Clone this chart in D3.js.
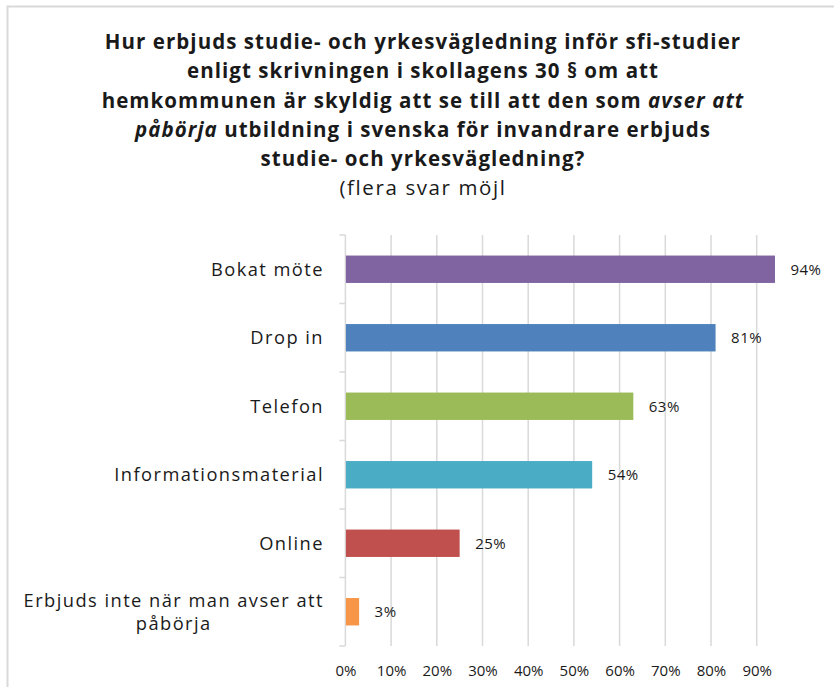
<!DOCTYPE html>
<html>
<head>
<meta charset="utf-8">
<script src="https://cdn.jsdelivr.net/npm/d3@7"></script>
<style>
  body { margin: 0; background: #fff; }
  text { font-family: "Open Sans", sans-serif; fill: #1a1a1a; }
</style>
</head>
<body>
<div id="chart"></div>
<script>
// data
const categories = [
  "Bokat möte",
  "Drop in",
  "Telefon",
  "Informationsmaterial",
  "Online",
  "Erbjuds inte när man avser att påbörja"
];
const shares = [0.94, 0.81, 0.63, 0.54, 0.25, 0.03];
const palette = ["#8064a2", "#4f81bd", "#9bbb59", "#4bacc6", "#c0504d", "#f79646"];
const tickValues = [0, 0.1, 0.2, 0.3, 0.4, 0.5, 0.6, 0.7, 0.8, 0.9];

const titleLines = [
  [{t: "Hur erbjuds studie- och yrkesvägledning inför sfi-studier"}],
  [{t: "enligt skrivningen i skollagens 30 § om att"}],
  [{t: "hemkommunen är skyldig att se till att den som "}, {t: "avser att", i: true}],
  [{t: "påbörja", i: true}, {t: " utbildning i svenska för invandrare erbjuds"}],
  [{t: "studie- och yrkesvägledning?"}]
];
const subtitle = "(flera svar möjl";

(function(){
  const svgWidth = 834,
        svgHeight = 687;

  const plot = {left: 345.4, right: 802.4, top: 235, bottom: 646};

  const svg = d3.select("#chart")
    .append("svg")
    .attr("width", svgWidth)
    .attr("height", svgHeight);

  // chart frame (only top/left edges are inside the window)
  svg.append("rect")
    .attr("x", 7.5)
    .attr("y", 6.5)
    .attr("width", 900)
    .attr("height", 800)
    .attr("fill", "none")
    .attr("stroke", "#d9d9d9")
    .attr("stroke-width", 2);

  // title
  const title = svg.append("text")
    .attr("text-anchor", "middle")
    .style("font-size", "20.5px")
    .style("font-weight", "bold")
    .style("letter-spacing", "1.05px");

  titleLines.forEach((line, i) => {
    const row = title.append("tspan")
      .attr("x", 423)
      .attr("y", 49 + i * 29.3);
    line.forEach(part => {
      row.append("tspan")
        .style("font-style", part.i ? "italic" : "normal")
        .text(part.t);
    });
  });

  svg.append("text")
    .attr("x", 423)
    .attr("y", 49 + 5 * 29.3 - 1)
    .attr("text-anchor", "middle")
    .style("font-size", "20.5px")
    .style("letter-spacing", "1.6px")
    .text(subtitle);

  const x = d3.scaleLinear()
    .domain([0, 1])
    .range([plot.left, plot.right]);

  const y = d3.scaleBand()
    .domain(categories)
    .range([plot.top, plot.bottom])
    .paddingInner(0.6)
    .paddingOuter(0.3);

  // vertical gridlines
  svg.append("g")
    .selectAll("line")
    .data(tickValues.slice(1))
    .enter()
    .append("line")
    .attr("x1", d => x(d))
    .attr("x2", d => x(d))
    .attr("y1", plot.top)
    .attr("y2", plot.bottom)
    .attr("stroke", "#d9d9d9")
    .attr("stroke-width", 1.5);

  // x axis labels
  const bottomAxis = d3.axisBottom(x)
    .tickValues(tickValues)
    .tickFormat(d3.format(".0%"))
    .tickSize(0)
    .tickPadding(19);

  const xAxis = svg.append("g")
    .attr("transform", `translate(0, ${plot.bottom})`)
    .call(bottomAxis);
  xAxis.select(".domain").remove();
  xAxis.selectAll("text")
    .style("font-family", "'Open Sans', sans-serif")
    .style("font-size", "15px")
    .attr("fill", "#1a1a1a");

  // category axis line + outward ticks at band boundaries
  const step = y.step();
  svg.append("line")
    .attr("x1", plot.left)
    .attr("x2", plot.left)
    .attr("y1", plot.top)
    .attr("y2", plot.bottom)
    .attr("stroke", "#d9d9d9")
    .attr("stroke-width", 1.5);

  svg.append("g")
    .selectAll("line")
    .data(d3.range(categories.length + 1))
    .enter()
    .append("line")
    .attr("x1", plot.left - 6)
    .attr("x2", plot.left)
    .attr("y1", i => plot.top + i * step)
    .attr("y2", i => plot.top + i * step)
    .attr("stroke", "#d9d9d9")
    .attr("stroke-width", 1.5);

  // category labels, wrapped and centred like the office chart
  const labelRight = 324;
  const maxLabel = 318;
  const labelSize = "18.3px";
  const labelSpacing = "1.45px";
  categories.forEach(cat => {
    const cy = y(cat) + y.bandwidth() / 2;
    const g = svg.append("g");
    const probe = g.append("text")
      .style("font-size", labelSize)
      .style("letter-spacing", labelSpacing);
    const words = cat.split(" ");
    const lines = [];
    let cur = [];
    words.forEach(w => {
      probe.text(cur.concat(w).join(" "));
      if (cur.length && probe.node().getComputedTextLength() > maxLabel) {
        lines.push(cur.join(" "));
        cur = [w];
      } else {
        cur.push(w);
      }
    });
    lines.push(cur.join(" "));
    probe.remove();

    const widths = lines.map(l => {
      const t = g.append("text")
        .style("font-size", labelSize)
        .style("letter-spacing", labelSpacing)
        .text(l);
      const w = t.node().getComputedTextLength();
      t.remove();
      return w;
    });
    const widest = d3.max(widths);
    const lh = 23;
    lines.forEach((l, i) => {
      g.append("text")
        .attr("x", labelRight - widest / 2)
        .attr("y", cy + 6.5 + (i - (lines.length - 1) / 2) * lh)
        .attr("text-anchor", "middle")
        .style("font-size", labelSize)
        .style("letter-spacing", labelSpacing)
        .text(l);
    });
  });

  // bars
  svg.append("g")
    .selectAll("rect")
    .data(categories)
    .enter()
    .append("rect")
    .attr("x", x(0) + 0.5)
    .attr("y", d => y(d))
    .attr("width", (d, i) => x(shares[i]) - x(0) - 0.5)
    .attr("height", y.bandwidth())
    .attr("fill", (d, i) => palette[i]);

  // value labels
  svg.append("g")
    .selectAll("text")
    .data(categories)
    .enter()
    .append("text")
    .attr("x", (d, i) => x(shares[i]) + 15.5)
    .attr("y", d => y(d) + y.bandwidth() / 2 + 5.5)
    .style("font-size", "15px")
    .style("letter-spacing", "0.5px")
    .text((d, i) => d3.format(".0%")(shares[i]));
})();
</script>
</body>
</html>
